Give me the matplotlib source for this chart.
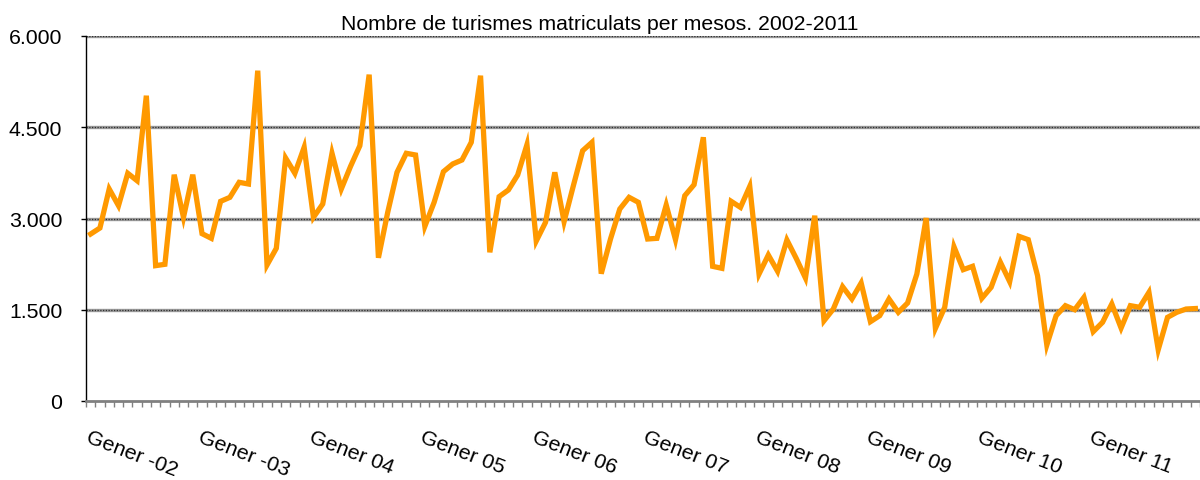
import matplotlib.pyplot as plt
import numpy as np

plt.rcParams['font.family'] = ['Liberation Sans', 'DejaVu Sans']

# monthly registrations, Jan 2002 .. Dec 2011
y2002 = [2745, 2844, 3485, 3211, 3743, 3622, 5019, 2225, 2247, 3720, 3019, 3720]
y2003 = [2751, 2674, 3282, 3348, 3595, 3567, 5430, 2236, 2510, 3995, 3743, 4171]
y2004 = [3019, 3238, 4072, 3485, 3858, 4197, 5365, 2354, 3101, 3759, 4072, 4044]
y2005 = [2871, 3266, 3770, 3896, 3962, 4252, 5348, 2444, 3359, 3469, 3715, 4214]
y2006 = [2630, 2937, 3759, 2948, 3540, 4115, 4252, 2093, 2663, 3156, 3348, 3266]
y2007 = [2663, 2674, 3222, 2652, 3375, 3556, 4335, 2214, 2181, 3282, 3183, 3528]
y2008 = [2088, 2400, 2132, 2647, 2346, 2022, 3046, 1320, 1512, 1879, 1677, 1940]
y2009 = [1304, 1403, 1677, 1458, 1611, 2088, 3008, 1195, 1540, 2535, 2159, 2214]
y2010 = [1688, 1869, 2280, 1962, 2707, 2652, 2060, 921, 1403, 1567, 1501, 1704]
y2011 = [1140, 1293, 1595, 1200, 1567, 1540, 1786, 843, 1375, 1458, 1512, 1520]

year_labels = ["Gener -02", "Gener -03", "Gener 04", "Gener 05", "Gener 06",
               "Gener 07", "Gener 08", "Gener 09", "Gener 10", "Gener 11"]
ytick_vals = [0, 1500, 3000, 4500, 6000]
ytick_labels = ["0", "1.500", "3.000", "4.500", "6.000"]

values = y2002 + y2003 + y2004 + y2005 + y2006 + y2007 + y2008 + y2009 + y2010 + y2011
x = np.arange(len(values))

fs = 15.3

fig = plt.figure(figsize=(12, 4.81), dpi=100)
ax = fig.add_axes([86 / 1200, 79 / 481, 1 - 86 / 1200, 365 / 481])

for v in ytick_vals[1:]:
    ax.axhline(v, color="#9a9a9a", lw=2.4, zorder=1)
    ax.axhline(v, color="#303030", lw=0.9, ls=(0, (1, 1.2)), zorder=1)

ax.plot(x, values, color="#FF9900", lw=3.8, solid_joinstyle="miter", zorder=3)

ax.set_xlim(-0.5, 118.7)
ax.set_ylim(0, 6000)

ax.spines["top"].set_visible(False)
ax.spines["right"].set_visible(False)
ax.spines["left"].set_color("black")
ax.spines["left"].set_linewidth(1.0)
ax.spines["bottom"].set_color("#808080")
ax.spines["bottom"].set_linewidth(2.0)

ax.set_yticks(ytick_vals)
ax.set_yticklabels(ytick_labels, fontsize=fs)
ax.tick_params(axis="y", direction="out", length=3.6, width=1, color="black", pad=13.5)

ax.set_xticks(x[::12])
ax.set_xticklabels(year_labels, fontsize=fs)
ax.set_xticks(np.arange(-0.5, 120, 1), minor=True)
ax.tick_params(axis="x", which="major", length=0, pad=19)
ax.tick_params(axis="x", which="minor", direction="out", length=4, width=1, color="#808080")
plt.setp(ax.get_xticklabels(), rotation=-21, ha="left", va="top", rotation_mode="anchor")

fig.text(0.5, (481 - 30) / 481, "Nombre de turismes matriculats per mesos. 2002-2011",
         ha="center", va="baseline", fontsize=fs)

fig.savefig("out.png", dpi=100)
